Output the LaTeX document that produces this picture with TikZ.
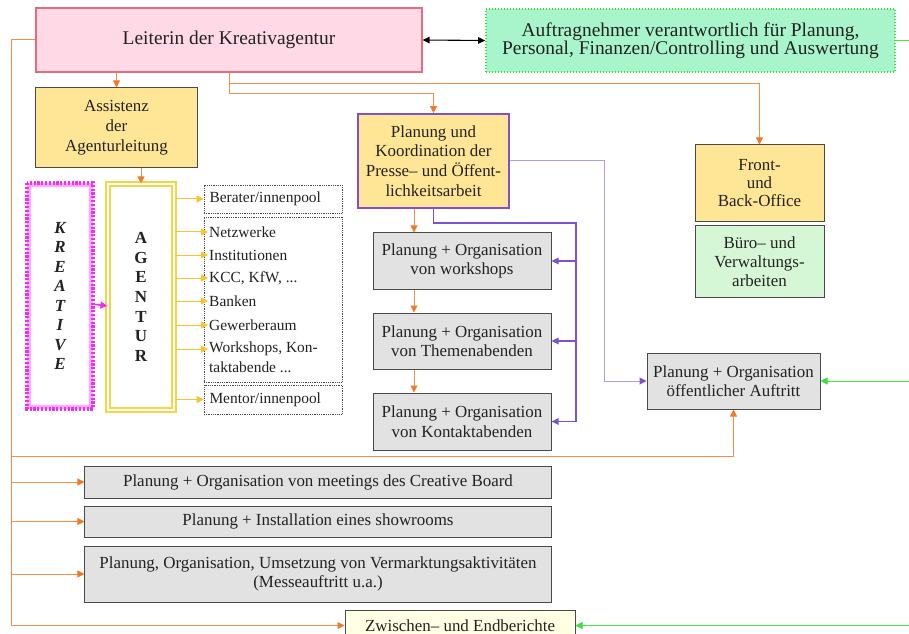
\documentclass[tikz,border=0pt]{standalone}
\usepackage{fontspec}
\setmainfont{Liberation Serif}
\usetikzlibrary{arrows.meta}
\definecolor{leadfill}{HTML}{FFD9E6}
\definecolor{leaddraw}{HTML}{E66A80}
\definecolor{auffill}{HTML}{A9F5CB}
\definecolor{aufdraw}{HTML}{38E038}
\definecolor{yel}{HTML}{FFE596}
\definecolor{gry}{HTML}{E2E2E2}
\definecolor{bgrn}{HTML}{D6F7D6}
\definecolor{zwfill}{HTML}{FFFFE3}
\definecolor{bordergray}{HTML}{4A4A4A}
\definecolor{orng}{HTML}{F0904A}
\definecolor{orngT}{HTML}{F07A28}
\definecolor{purpD}{HTML}{7B52D0}
\definecolor{purpL}{HTML}{B49AE8}
\definecolor{magD}{HTML}{EE30EE}
\definecolor{magL}{HTML}{FFA8FF}
\definecolor{agY}{HTML}{F5D547}
\definecolor{yarr}{HTML}{F7C52A}
\definecolor{grnline}{HTML}{4CE64C}
\definecolor{txt}{HTML}{222222}
\begin{document}
\begin{tikzpicture}[x=1bp,y=-1bp,
  box/.style={draw=bordergray, line width=1bp, inner sep=0pt, align=center, text=txt,
    font=\fontsize{17}{19.5}\selectfont},
  yelbox/.style={box, fill=yel},
  grybox/.style={box, fill=gry},
  listbox/.style={draw=bordergray, densely dotted, line width=0.8bp, inner sep=0pt, text=txt,
    font=\fontsize{15.5}{18}\selectfont},
  item/.style={inner sep=1bp, anchor=west, text=txt, font=\fontsize{15.5}{18}\selectfont},
  tipA/.style={-{Triangle[length=7bp,width=7bp]}},
  oline/.style={draw=orng, line width=1bp},
  oarrow/.style={oline, -{Triangle[length=7bp,width=7bp,color=orngT]}},
  yarrow/.style={draw=yarr, line width=1bp, tipA},
  parrow/.style={draw=purpD, line width=1.6bp, -{Triangle[length=7bp,width=6.5bp]}},
  pline/.style={draw=purpD, line width=1.6bp},
  plarrow/.style={draw=purpL, line width=1bp, -{Triangle[length=7bp,width=7bp,color=purpD]}},
  garrow/.style={draw=grnline, line width=1bp, -{Triangle[length=7bp,width=7bp,color=aufdraw]}},
]
\useasboundingbox (0,0) rectangle (909,634);
\clip (0,0) rectangle (909,634);

% nodes
\node[box, fill=leadfill, draw=leaddraw, line width=1.2bp, minimum width=386bp, minimum height=64bp,
  font=\fontsize{19.5}{19}\selectfont] (lead) at (229,40) {Leiterin der Kreativagentur};
\node[box, fill=auffill, draw=aufdraw, dotted, line width=1.6bp, minimum width=409bp, minimum height=63bp,
  font=\fontsize{19.5}{18.5}\selectfont] (auf) at (690.5,40.5)
  {Auftragnehmer verantwortlich für Planung,\\Personal, Finanzen/Controlling und Auswertung};
\node[yelbox, minimum width=161bp, minimum height=80bp, font=\fontsize{17}{20}\selectfont] (assist) at (116.5,128)
  {Assistenz\\der\\Agenturleitung};
\node[yelbox, draw=purpD, line width=1.8bp, minimum width=151bp, minimum height=94bp,
  font=\fontsize{17}{19.7}\selectfont] (plan) at (433.5,161)
  {Planung und\\Koordination der\\Presse– und Öffent-\\lichkeitsarbeit};
\node[yelbox, minimum width=129bp, minimum height=76bp, font=\fontsize{17}{18.5}\selectfont] (front) at (759.5,183)
  {Front-\\und\\Back-Office};
\node[box, fill=bgrn, minimum width=129bp, minimum height=71bp, font=\fontsize{17}{19}\selectfont] (buero) at (759.5,261.5)
  {Büro– und\\Verwaltungs-\\arbeiten};

% KREATIVE
\node[draw=magL, line width=3.6bp, fill=white, minimum width=62bp, minimum height=222bp, inner sep=0pt,
  align=center, text=txt, font=\fontsize{17}{19.5}\selectfont\bfseries\itshape] (kreat) at (60,296)
  {K\\R\\E\\A\\T\\I\\V\\E};
\draw[draw=magD, line width=3.6bp, dash pattern=on 2.2bp off 1.6bp] (kreat.north west) rectangle (kreat.south east);

% AGENTUR
\node[draw=agY, double=white, double distance=2.6bp, line width=1.3bp, minimum width=66bp, minimum height=226bp,
  inner sep=0pt, align=center, text=txt, font=\fontsize{17}{19.7}\selectfont\bfseries] (agent) at (141,297)
  {A\\G\\E\\N\\T\\U\\R};

% list boxes
\node[listbox, minimum width=138bp, minimum height=28bp, text width=127bp, inner xsep=5.5bp, align=left] (berater) at (273,199)
  {Berater/innenpool};
\node[listbox, minimum width=138bp, minimum height=165bp] (list) at (273,299.5) {};
\node[listbox, minimum width=138bp, minimum height=29bp, text width=127bp, inner xsep=5.5bp, align=left] (mentor) at (273,399.5)
  {Mentor/innenpool};
\node[item] (i1) at (208,232) {Netzwerke};
\node[item] (i2) at (208,255) {Institutionen};
\node[item] (i3) at (208,278) {KCC, KfW, ...};
\node[item] (i4) at (208,301) {Banken};
\node[item] (i5) at (208,325) {Gewerberaum};
\node[item] (i6) at (208,349) {Workshops, Kon-};
\node[item] (i6b) at (208,367) {taktabende ...};

% gray boxes centre
\node[grybox, minimum width=178bp, minimum height=56bp] (ws) at (462,261) {Planung + Organisation\\von workshops};
\node[grybox, minimum width=178bp, minimum height=56bp] (th) at (462,341) {Planung + Organisation\\von Themenabenden};
\node[grybox, minimum width=178bp, minimum height=57bp] (ka) at (462,421.5) {Planung + Organisation\\von Kontaktabenden};
\node[grybox, minimum width=173bp, minimum height=56bp] (oef) at (733.5,381) {Planung + Organisation\\öffentlicher Auftritt};

% wide gray boxes
\node[grybox, minimum width=466bp, minimum height=32bp] (cb) at (318,482) {Planung + Organisation von meetings des Creative Board};
\node[grybox, minimum width=466bp, minimum height=31bp] (sr) at (318,521.5) {Planung + Installation eines showrooms};
\node[grybox, minimum width=466bp, minimum height=56bp] (vm) at (318,574) {Planung, Organisation, Umsetzung von Vermarktungsaktivitäten\\(Messeauftritt u.a.)};
\node[box, fill=zwfill, minimum width=230bp, minimum height=30bp] (zw) at (460,625.5) {Zwischen– und Endberichte};

% coordinates
\coordinate (L0) at (11,40);
\coordinate (L1) at (11,625.5);
\coordinate (B1) at (11,456);
\coordinate (OX) at (414,0);
\coordinate (PR) at (576,223);
\coordinate (PV) at (604,0);
\coordinate (G0) at (909,0);

% orange left trunk
\draw[oline] (lead.west) -- (L0) -- (L1);
\draw[oarrow] (L1) -- (zw.west);
\draw[oarrow] (L0 |- cb.west) -- (cb.west);
\draw[oarrow] (L0 |- sr.west) -- (sr.west);
\draw[oarrow] (L0 |- vm.west) -- (vm.west);
\draw[oarrow] (B1) -| (oef.south);

% orange from lead
\draw[oarrow] (assist.north |- lead.south) -- (assist.north);
\draw[oarrow] (lead.south) -- ++(0,11) -| (front.north);
\draw[oarrow] (lead.south) -- ++(0,21) -| (plan.north);
\draw[oarrow] (agent.north |- assist.south) -- (agent.north);
\draw[oarrow] (OX |- plan.south) -- (OX |- ws.north);
\draw[oarrow] (OX |- ws.south) -- (OX |- th.north);
\draw[oarrow] (OX |- th.south) -- (OX |- ka.north);

% black double arrow
\draw[line width=1.1bp, {Triangle[length=7bp,width=6.5bp]}-{Triangle[length=7bp,width=6.5bp]}] (lead.east) -- (auf.west);

% green
\draw[draw=grnline, line width=1bp] (auf.east) -- (auf.east -| G0);
\draw[garrow] (oef.east -| G0) -- (oef.east);
\draw[garrow] (zw.east -| G0) -- (zw.east);

% magenta
\draw[draw=magD, line width=1.6bp, tipA] ([yshift=-8bp]kreat.east) -- ([yshift=-9bp]agent.west);

% yellow arrows
\draw[yarrow] (agent.east |- berater.west) -- (berater.west);
\foreach \n in {i1,i2,i3,i4,i5,i6} \draw[yarrow] (agent.east |- \n.west) -- (\n.west);
\draw[yarrow] (agent.east |- mentor.west) -- (mentor.west);

% purple
\draw[pline] (plan.south) |- (PR) -- (PR |- ka.east);
\draw[parrow] (PR |- ws.east) -- (ws.east);
\draw[parrow] (PR |- th.east) -- (th.east);
\draw[parrow] (PR |- ka.east) -- (ka.east);
\draw[plarrow] (plan.east) -- (plan.east -| PV) -- (PV |- oef.west) -- (oef.west);
\end{tikzpicture}
\end{document}
